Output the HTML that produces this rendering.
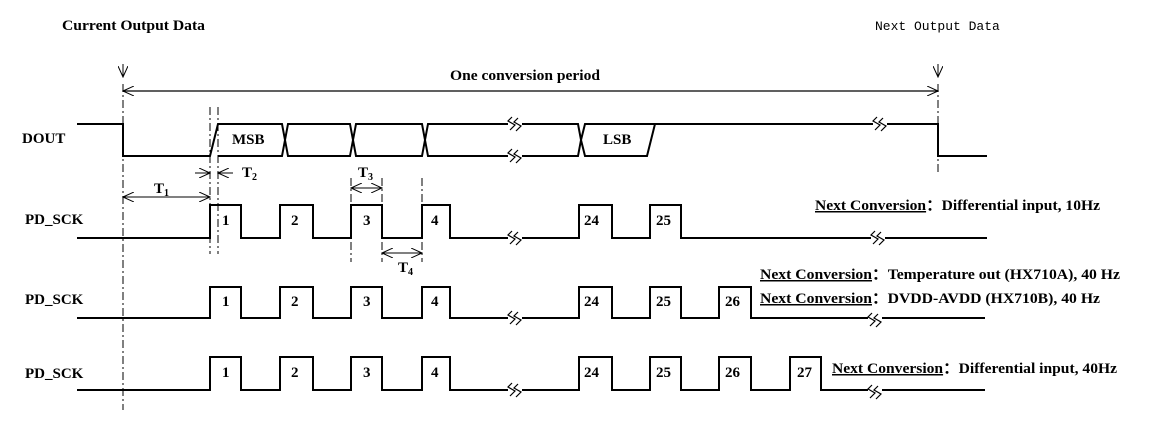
<!DOCTYPE html>
<html><head><meta charset="utf-8"><style>
html,body{margin:0;padding:0;background:#fff;}
svg{display:block;}
text{font-family:"Liberation Serif",serif;font-weight:bold;font-size:15px;fill:#000;}
.n{font-weight:normal;}
</style></head><body>
<svg width="1150" height="425" viewBox="0 0 1150 425" xmlns="http://www.w3.org/2000/svg">
<defs>
<marker id="ah" markerWidth="12" markerHeight="10" refX="11" refY="5" orient="auto-start-reverse" markerUnits="userSpaceOnUse">
<path d="M0,0 L11,5 L0,10" fill="none" stroke="#000" stroke-width="1"/>
</marker>
<path id="sq" d="M-3,-7 L-7,-3 L0,1 L-5,6 M3,-6 L-1,-2 L6,2 L1,7"/>
</defs>
<g fill="none" stroke="#000">
<g stroke-width="1" stroke-dasharray="8,3,2,3">
<line x1="123" y1="84" x2="123" y2="410"/>
<line x1="938" y1="84" x2="938" y2="172"/>
<line x1="210" y1="107" x2="210" y2="254"/>
<line x1="218" y1="107" x2="218" y2="254"/>
<line x1="351" y1="178" x2="351" y2="262"/>
<line x1="382" y1="178" x2="382" y2="262"/>
<line x1="422" y1="178" x2="422" y2="262"/>
</g>
<line x1="123" y1="64" x2="123" y2="77" marker-end="url(#ah)"/>
<line x1="938" y1="64" x2="938" y2="77" marker-end="url(#ah)"/>
<line x1="123" y1="91" x2="938" y2="91" stroke-width="1.3" marker-start="url(#ah)" marker-end="url(#ah)"/>
<line x1="123" y1="197" x2="210" y2="197" marker-start="url(#ah)" marker-end="url(#ah)"/>
<line x1="195" y1="173" x2="210" y2="173" marker-end="url(#ah)"/>
<line x1="233" y1="173" x2="218" y2="173" marker-end="url(#ah)"/>
<line x1="351" y1="188" x2="382" y2="188" marker-start="url(#ah)" marker-end="url(#ah)"/>
<line x1="382" y1="253" x2="422" y2="253" marker-start="url(#ah)" marker-end="url(#ah)"/>

<g stroke-width="2">
<polyline points="77,124 123,124 123,156 210,156 218,124 282,124 285,140 288,124 350,124 353,140 356,124 422,124 425,140 428,124 508,124"/>
<polyline points="522,124 578,124 581,140 585,124 938,124 938,156 987,156"/>
<polyline points="218,156 282,156 285,140 288,156 350,156 353,140 356,156 422,156 425,140 428,156 508,156"/>
<polyline points="522,156 578,156 581,140 585,156 647,156 655,124"/>
<polyline points="77,238 210,238 210,205 241,205 241,238 280,238 280,205 313,205 313,238 351,238 351,205 382,205 382,238 422,238 422,205 450,205 450,238 508,238"/>
<polyline points="522,238 579,238 579,205 612,205 612,238 650,238 650,205 681,205 681,238 987,238"/>
<polyline points="77,318 210,318 210,287 241,287 241,318 280,318 280,287 313,287 313,318 351,318 351,287 382,287 382,318 422,318 422,287 450,287 450,318 508,318"/>
<polyline points="522,318 579,318 579,287 612,287 612,318 650,318 650,287 681,287 681,318 719,318 719,287 751,287 751,318 985,318"/>
<polyline points="77,390 210,390 210,357 241,357 241,390 280,390 280,357 313,357 313,390 351,390 351,357 382,357 382,390 422,390 422,357 450,357 450,390 508,390"/>
<polyline points="522,390 579,390 579,357 612,357 612,390 650,390 650,357 681,357 681,390 719,390 719,357 751,357 751,390 790,390 790,357 821,357 821,390 985,390"/>
</g>
</g>
<g fill="#fff">
<rect x="508" y="118" width="14" height="12"/>
<rect x="508" y="150" width="14" height="12"/>
<rect x="508" y="232" width="14" height="12"/>
<rect x="508" y="312" width="14" height="12"/>
<rect x="508" y="384" width="14" height="12"/>
<rect x="873" y="118" width="14" height="12"/>
<rect x="871" y="232" width="14" height="12"/>
<rect x="868" y="312" width="14" height="12"/>
<rect x="868" y="384" width="14" height="12"/>
</g>
<g fill="none" stroke="#000" stroke-width="1.2">
<use href="#sq" x="515" y="124"/><use href="#sq" x="515" y="156"/>
<use href="#sq" x="515" y="238"/><use href="#sq" x="515" y="318"/><use href="#sq" x="515" y="390"/>
<use href="#sq" x="880" y="124"/><use href="#sq" x="878" y="238"/>
<use href="#sq" x="875" y="320"/><use href="#sq" x="875" y="392"/>
</g>
<text x="62" y="30" textLength="143" lengthAdjust="spacingAndGlyphs">Current Output Data</text>
<text x="875" y="30" class="n" style="font-family:'Liberation Mono',monospace;font-size:13px">Next Output Data</text>
<text x="450" y="80" textLength="150" lengthAdjust="spacingAndGlyphs">One conversion period</text>
<text x="22" y="143">DOUT</text>
<text x="25" y="224">PD_SCK</text>
<text x="25" y="304">PD_SCK</text>
<text x="25" y="378">PD_SCK</text>
<text x="232" y="144">MSB</text>
<text x="603" y="144">LSB</text>
<text x="154" y="193">T<tspan font-size="10" dy="3">1</tspan></text>
<text x="242" y="177">T<tspan font-size="10" dy="3">2</tspan></text>
<text x="358" y="177">T<tspan font-size="10" dy="3">3</tspan></text>
<text x="398" y="272">T<tspan font-size="10" dy="3">4</tspan></text>
<g>
<text x="222" y="225">1</text><text x="291" y="225">2</text><text x="363" y="225">3</text><text x="431" y="225">4</text>
<text x="584" y="225">24</text><text x="656" y="225">25</text>
<text x="222" y="306">1</text><text x="291" y="306">2</text><text x="363" y="306">3</text><text x="431" y="306">4</text>
<text x="584" y="306">24</text><text x="656" y="306">25</text><text x="725" y="306">26</text>
<text x="222" y="377">1</text><text x="291" y="377">2</text><text x="363" y="377">3</text><text x="431" y="377">4</text>
<text x="584" y="377">24</text><text x="656" y="377">25</text><text x="725" y="377">26</text><text x="797" y="377">27</text>
</g>
<text x="815" y="210" textLength="285" lengthAdjust="spacingAndGlyphs"><tspan text-decoration="underline">Next Conversion</tspan>：Differential input, 10Hz</text>
<text x="760" y="279" textLength="360" lengthAdjust="spacingAndGlyphs"><tspan text-decoration="underline">Next Conversion</tspan>：Temperature out (HX710A), 40 Hz</text>
<text x="760" y="303" textLength="340" lengthAdjust="spacingAndGlyphs"><tspan text-decoration="underline">Next Conversion</tspan>：DVDD-AVDD (HX710B), 40 Hz</text>
<text x="832" y="373" textLength="285" lengthAdjust="spacingAndGlyphs"><tspan text-decoration="underline">Next Conversion</tspan>：Differential input, 40Hz</text>
</svg>
</body></html>
